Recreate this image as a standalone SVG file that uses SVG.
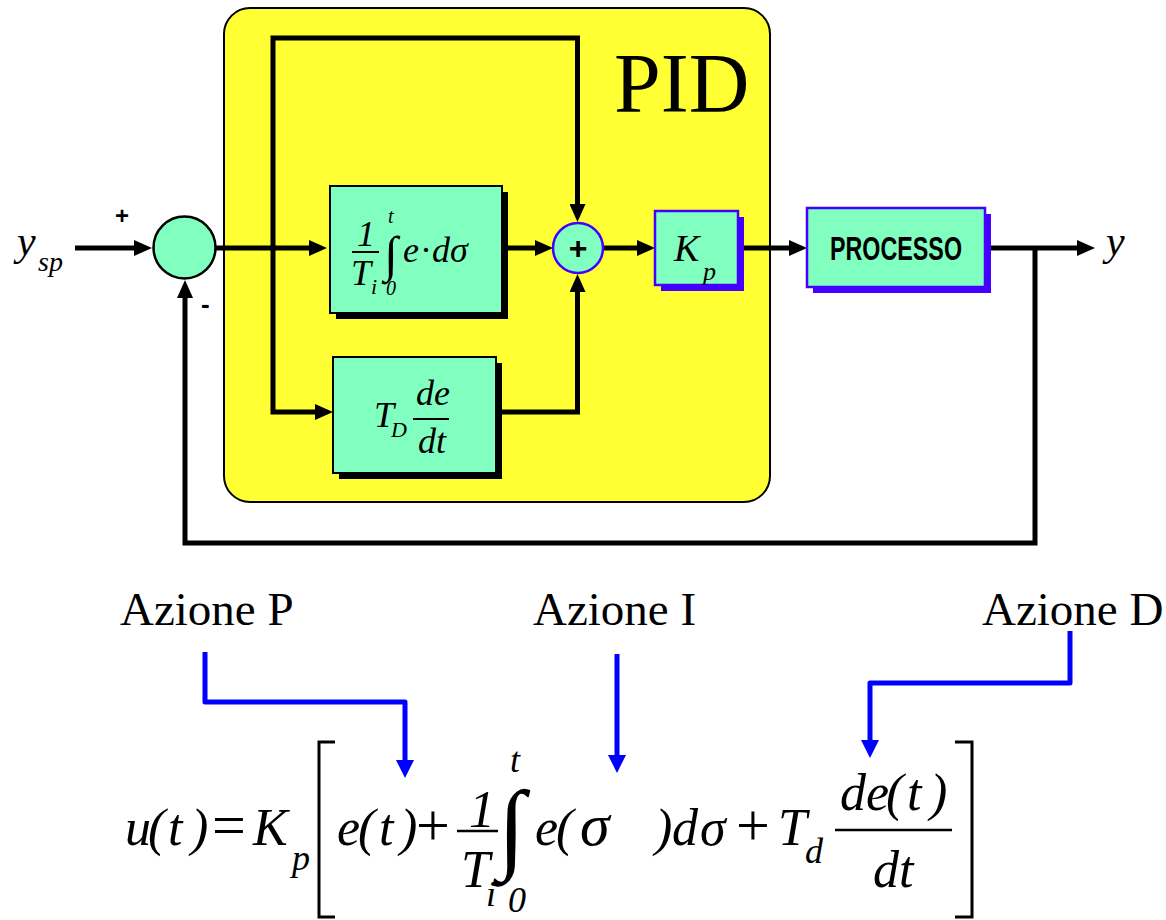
<svg xmlns="http://www.w3.org/2000/svg" width="1166" height="920" viewBox="0 0 1166 920">
<style>
.m{font-family:"Liberation Serif","Times New Roman",serif;font-style:italic;fill:#000}
.u{font-family:"Liberation Serif","Times New Roman",serif;fill:#000}
.s{font-family:"Liberation Sans",Arial,sans-serif;font-weight:bold;fill:#000}
.ln{fill:none;stroke:#000;stroke-width:5;stroke-linejoin:miter}
.bl{fill:none;stroke:#0000FF;stroke-width:5;stroke-linejoin:round}
.box{fill:#80FFC0}
</style>
<defs>
<marker id="ah" viewBox="0 0 18 16" refX="8" refY="8" markerWidth="18" markerHeight="16" markerUnits="userSpaceOnUse" orient="auto"><path d="M0,0 L18,8 L0,16 z" fill="#000"/></marker>
<marker id="ab" viewBox="0 0 18 18" refX="8" refY="9" markerWidth="18" markerHeight="18" markerUnits="userSpaceOnUse" orient="auto"><path d="M0,0 L18,9 L0,18 z" fill="#0000FF"/></marker>
</defs>

<g id="pid-frame">
<rect x="224" y="8" width="546" height="494" rx="26" fill="#FFFF33" stroke="#000" stroke-width="2"/>
<text class="u" x="614" y="112" font-size="84">PID</text>
</g>

<g id="connectors">
<path class="ln" d="M75,248 H142" marker-end="url(#ah)"/>
<path class="ln" d="M216,248 H317" marker-end="url(#ah)"/>
<path class="ln" d="M273,248 V38 H577.5 V212" marker-end="url(#ah)"/>
<path class="ln" d="M273,248 V412 H323" marker-end="url(#ah)"/>
<path class="ln" d="M502,248 H543" marker-end="url(#ah)"/>
<path class="ln" d="M496,412 H577.5 V284" marker-end="url(#ah)"/>
<path class="ln" d="M603,248 H645" marker-end="url(#ah)"/>
<path class="ln" d="M738,248 H797" marker-end="url(#ah)"/>
<path class="ln" d="M985,248 H1085" marker-end="url(#ah)"/>
<path class="ln" d="M1035,248 V543 H185 V290" marker-end="url(#ah)"/>
<path class="bl" d="M205,652 V702 H405 V768" marker-end="url(#ab)"/>
<path class="bl" d="M617,654 V763" marker-end="url(#ab)"/>
<path class="bl" d="M1070,631 V683 H870 V748" marker-end="url(#ab)"/>
</g>

<g id="input">
<text class="m" x="17" y="255" font-size="42">y</text>
<text class="m" x="38" y="271" font-size="28">sp</text>
<text class="s" x="115" y="224" font-size="24">+</text>
<text class="s" x="201" y="313" font-size="26">-</text>
</g>

<g id="sum1">
<circle cx="184.5" cy="247.5" r="31" class="box" stroke="#000" stroke-width="2.5"/>
</g>

<g id="integral">
<rect x="336" y="192" width="172" height="127" fill="#000"/>
<rect x="330" y="186" width="172" height="127" class="box" stroke="#000" stroke-width="2"/>
<text class="m" x="357" y="246" font-size="36">1</text>
<line x1="352" y1="252" x2="379" y2="252" stroke="#000" stroke-width="2"/>
<text class="m" x="351" y="285" font-size="36">T</text>
<text class="m" x="371" y="294" font-size="22">i</text>
<text class="m" x="384" y="271" font-size="50">∫</text>
<text class="m" x="388" y="223" font-size="20">t</text>
<text class="m" x="386" y="295" font-size="20">0</text>
<text class="m" x="403" y="262" font-size="36">e</text>
<text class="u" x="420" y="262" font-size="36">·</text>
<text class="m" x="432" y="262" font-size="36">d</text>
<text class="m" x="450" y="262" font-size="36">σ</text>
</g>

<g id="derivative">
<rect x="339" y="363" width="163" height="116" fill="#000"/>
<rect x="333" y="357" width="163" height="116" class="box" stroke="#000" stroke-width="2"/>
<text class="m" x="374" y="427" font-size="36">T</text>
<text class="m" x="391" y="437" font-size="22">D</text>
<text class="m" x="416" y="405" font-size="36">de</text>
<line x1="413" y1="419" x2="449" y2="419" stroke="#000" stroke-width="2"/>
<text class="m" x="418" y="453" font-size="36">dt</text>
</g>

<g id="sum2">
<circle cx="578" cy="248" r="25" class="box" stroke="#4400FF" stroke-width="2.5"/>
<text class="s" x="578" y="259" font-size="32" text-anchor="middle">+</text>
</g>

<g id="kp">
<rect x="661" y="217" width="83" height="74" fill="#4400FF"/>
<rect x="655" y="211" width="83" height="74" class="box" stroke="#4400FF" stroke-width="2.5"/>
<text class="m" x="674" y="261" font-size="38">K</text>
<text class="m" x="703" y="280" font-size="26">p</text>
</g>

<g id="processo">
<rect x="813" y="214" width="178" height="79" fill="#4400FF"/>
<rect x="807" y="208" width="178" height="79" class="box" stroke="#4400FF" stroke-width="2.5"/>
<text class="s" x="830" y="260" font-size="34" textLength="132" lengthAdjust="spacingAndGlyphs">PROCESSO</text>
</g>

<g id="output">
<text class="m" x="1106" y="255" font-size="42">y</text>
</g>

<g id="labels">
<text class="u" x="120" y="625" font-size="47">Azione P</text>
<text class="u" x="533" y="625" font-size="47">Azione I</text>
<text class="u" x="982" y="625" font-size="47">Azione D</text>
</g>

<g id="equation">
<text class="m" x="125" y="845" font-size="52">u</text>
<text class="m" x="148" y="845" font-size="52">(</text>
<text class="m" x="168" y="845" font-size="52">t</text>
<text class="m" x="191" y="845" font-size="52">)</text>
<text class="u" x="212" y="845" font-size="60">=</text>
<text class="m" x="253" y="845" font-size="52">K</text>
<text class="m" x="292" y="870" font-size="36">p</text>
<path d="M335,742 H319 V917 H335" fill="none" stroke="#000" stroke-width="3"/>
<text class="m" x="337" y="845" font-size="52">e</text>
<text class="m" x="358" y="845" font-size="52">(</text>
<text class="m" x="379" y="845" font-size="52">t</text>
<text class="m" x="400" y="845" font-size="52">)</text>
<text class="u" x="416" y="845" font-size="60">+</text>
<text class="m" x="469" y="827" font-size="52">1</text>
<line x1="457" y1="831" x2="498" y2="831" stroke="#000" stroke-width="2.5"/>
<text class="m" x="461" y="887" font-size="52">T</text>
<text class="m" x="486" y="906" font-size="36">i</text>
<text class="m" x="498" y="860" font-size="100">∫</text>
<text class="m" x="510" y="772" font-size="36">t</text>
<text class="m" x="508" y="912" font-size="36">0</text>
<text class="m" x="535" y="845" font-size="52">e</text>
<text class="m" x="556" y="845" font-size="52">(</text>
<text class="m" x="580" y="845" font-size="60">σ</text>
<text class="m" x="655" y="845" font-size="52">)</text>
<text class="m" x="672" y="845" font-size="52">d</text>
<text class="m" x="700" y="845" font-size="52">σ</text>
<text class="u" x="736" y="845" font-size="60">+</text>
<text class="m" x="778" y="845" font-size="52">T</text>
<text class="m" x="805" y="863" font-size="36">d</text>
<text class="m" x="840" y="810" font-size="52">d</text>
<text class="m" x="866" y="810" font-size="52">e</text>
<text class="m" x="886" y="810" font-size="52">(</text>
<text class="m" x="907" y="810" font-size="52">t</text>
<text class="m" x="930" y="810" font-size="52">)</text>
<line x1="835" y1="830" x2="952" y2="830" stroke="#000" stroke-width="2.5"/>
<text class="m" x="873" y="887" font-size="52">dt</text>
<path d="M955,742 H972 V917 H955" fill="none" stroke="#000" stroke-width="3"/>
</g>
</svg>
